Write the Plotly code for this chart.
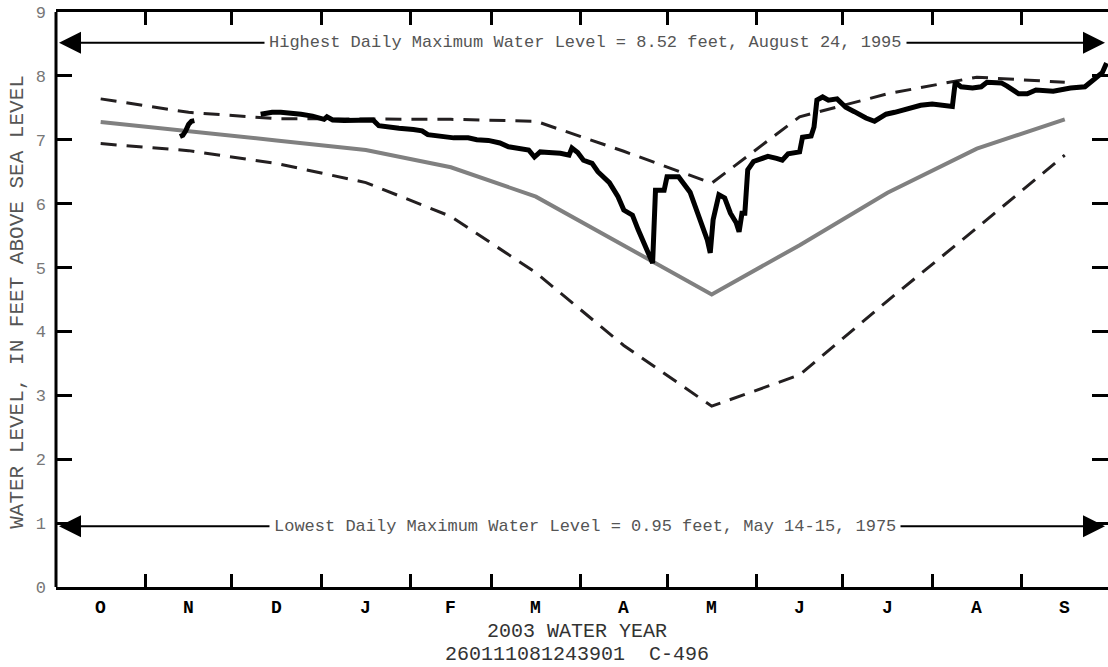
import pandas as pd
import plotly.graph_objects as go

# ---- data -------------------------------------------------------------
month_letters = ["O", "N", "D", "J", "F", "M", "A", "M", "J", "J", "A", "S"]
month_starts = ["2002-10-01", "2002-11-01", "2002-12-01", "2003-01-01",
                "2003-02-01", "2003-03-01", "2003-04-01", "2003-05-01",
                "2003-06-01", "2003-07-01", "2003-08-01", "2003-09-01",
                "2003-10-01"]

# monthly statistics of daily maximum water level (plotted at mid-month)
median_level = [7.28, 7.14, 6.99, 6.84, 6.57, 6.11, 5.35, 4.58, 5.35, 6.17, 6.86, 7.32]
upper_level = [7.64, 7.43, 7.33, 7.32, 7.32, 7.29, 6.82, 6.32, 7.36, 7.72, 7.98, 7.90]
lower_level = [6.94, 6.83, 6.63, 6.33, 5.80, 4.92, 3.78, 2.83, 3.32, 4.48, 5.62, 6.76]

# daily maximum water level, 2003 water year (None = missing record)
daily_dates = [
    "2002-11-13", "2002-11-14", "2002-11-15", "2002-11-16", "2002-11-17", "2002-11-18",
    "2002-11-19",
    "2002-12-11", "2002-12-15", "2002-12-18", "2002-12-22", "2002-12-25", "2002-12-29",
    "2003-01-01", "2003-01-02", "2003-01-03", "2003-01-05", "2003-01-09", "2003-01-14",
    "2003-01-19", "2003-01-21", "2003-01-24", "2003-01-28", "2003-02-02", "2003-02-05",
    "2003-02-07", "2003-02-12", "2003-02-16", "2003-02-21", "2003-02-24", "2003-02-28",
    "2003-03-04", "2003-03-07", "2003-03-11", "2003-03-14", "2003-03-16", "2003-03-18",
    "2003-03-21", "2003-03-25", "2003-03-28", "2003-03-29", "2003-03-31", "2003-04-02",
    "2003-04-05", "2003-04-07", "2003-04-11", "2003-04-14", "2003-04-16", "2003-04-19",
    "2003-04-21", "2003-04-24", "2003-04-26", "2003-04-27", "2003-04-30", "2003-05-01",
    "2003-05-05", "2003-05-09", "2003-05-11", "2003-05-13", "2003-05-15", "2003-05-16",
    "2003-05-17", "2003-05-19", "2003-05-21", "2003-05-23", "2003-05-25", "2003-05-26",
    "2003-05-27", "2003-05-28", "2003-05-29", "2003-05-31", "2003-06-03", "2003-06-05",
    "2003-06-08", "2003-06-10", "2003-06-12", "2003-06-16", "2003-06-17", "2003-06-20",
    "2003-06-21", "2003-06-22", "2003-06-24", "2003-06-26", "2003-06-29", "2003-07-02",
    "2003-07-05", "2003-07-07", "2003-07-09", "2003-07-12", "2003-07-16", "2003-07-19",
    "2003-07-25", "2003-07-28", "2003-08-01", "2003-08-06", "2003-08-08", "2003-08-09",
    "2003-08-11", "2003-08-15", "2003-08-18", "2003-08-20", "2003-08-25", "2003-08-27",
    "2003-08-31", "2003-09-03", "2003-09-06", "2003-09-12", "2003-09-18", "2003-09-23",
    "2003-09-27", "2003-09-29", "2003-09-30 12:00",
]
daily_level = [
    7.05, 7.07, 7.14, 7.24, 7.29, 7.30,
    None,
    7.40, 7.43, 7.43, 7.42, 7.40, 7.37,
    7.33, 7.32, 7.36, 7.31, 7.30, 7.31,
    7.31, 7.22, 7.20, 7.18, 7.16, 7.14,
    7.08, 7.05, 7.03, 7.03, 7.00, 6.99,
    6.95, 6.89, 6.87, 6.84, 6.73, 6.81,
    6.80, 6.79, 6.76, 6.87, 6.80, 6.68,
    6.63, 6.50, 6.33, 6.11, 5.90, 5.82,
    5.59, 5.28, 5.07, 6.21, 6.21, 6.42,
    6.42, 6.18, 5.92, 5.70, 5.43, 5.23,
    5.75, 6.14, 6.09, 5.85, 5.70, 5.56,
    5.85, 5.85, 6.53, 6.66, 6.71, 6.74,
    6.71, 6.68, 6.78, 6.81, 7.04, 7.06,
    7.20, 7.62, 7.67, 7.62, 7.64, 7.51,
    7.44, 7.39, 7.34, 7.29, 7.40, 7.43,
    7.51, 7.54, 7.56, 7.54, 7.52, 7.90,
    7.83, 7.81, 7.83, 7.90, 7.89, 7.84,
    7.72, 7.72, 7.78, 7.76, 7.81, 7.83,
    7.97, 8.05, 8.20,
]

record_high = 8.52
record_high_text = "Highest Daily Maximum Water Level = 8.52 feet, August 24, 1995"
record_low = 0.95
record_low_text = "Lowest Daily Maximum Water Level = 0.95 feet, May 14-15, 1975"

# ---- derived positions --------------------------------------------------
starts = pd.to_datetime(month_starts)
mid_month = [starts[i] + (starts[i + 1] - starts[i]) / 2 for i in range(12)]

FONT = "Courier New, Liberation Mono, monospace"
DASH_COLOR = "#231f20"

fig = go.Figure()

fig.add_trace(go.Scatter(x=mid_month, y=upper_level, mode="lines",
                         line=dict(color=DASH_COLOR, width=3, dash="16px,10px"),
                         hoverinfo="skip"))
fig.add_trace(go.Scatter(x=mid_month, y=lower_level, mode="lines",
                         line=dict(color=DASH_COLOR, width=3, dash="16px,10px"),
                         hoverinfo="skip"))
fig.add_trace(go.Scatter(x=mid_month, y=median_level, mode="lines",
                         line=dict(color="#808080", width=4),
                         hoverinfo="skip"))
fig.add_trace(go.Scatter(x=daily_dates, y=daily_level, mode="lines",
                         connectgaps=False,
                         line=dict(color="black", width=5),
                         hoverinfo="skip"))

annotations = []

# record lines: arrow to each edge, text sitting on a white box in the middle
for level, label in [(record_high, record_high_text), (record_low, record_low_text)]:
    for edge in (month_starts[0], month_starts[-1]):
        annotations.append(dict(
            x=edge, y=level, xref="x", yref="y",
            ax=mid_month[6], ay=level, axref="x", ayref="y",
            text="", showarrow=True, arrowhead=2, arrowsize=2.2,
            arrowwidth=2, arrowcolor="black", standoff=3,
        ))
    annotations.append(dict(
        x=0.503, y=level, xref="paper", yref="y", text=label,
        showarrow=False, bgcolor="white", borderpad=4,
        font=dict(family=FONT, size=17, color="#555555"),
    ))

# month letters centred under each month
for pos, letter in zip(mid_month, month_letters):
    annotations.append(dict(
        x=pos, y=0, xref="x", yref="paper", yanchor="middle", yshift=-21,
        text="<b>" + letter + "</b>", showarrow=False,
        font=dict(family=FONT, size=18, color="black"),
    ))

annotations += [
    dict(x=0.4955, y=-0.078, xref="paper", yref="paper", yanchor="middle",
         text="2003 WATER YEAR",
         showarrow=False, font=dict(family=FONT, size=20, color="#333333")),
    dict(x=0.4955, y=-0.118, xref="paper", yref="paper", yanchor="middle",
         text="260111081243901  C-496",
         showarrow=False, font=dict(family=FONT, size=20, color="#333333")),
    dict(x=0, y=0.496, xref="paper", yref="paper", xanchor="center", yanchor="middle",
         xshift=-38,
         text="WATER LEVEL, IN FEET ABOVE SEA LEVEL", textangle=-90,
         showarrow=False, font=dict(family=FONT, size=21, color="#555555")),
]

fig.update_layout(
    width=1108, height=667,
    margin=dict(l=56, r=0, t=12, b=80),
    paper_bgcolor="white", plot_bgcolor="white",
    showlegend=False,
    annotations=annotations,
    shapes=[dict(type="line", xref="paper", yref="paper", x0=0, x1=0, y0=0, y1=1,
                 line=dict(color="black", width=3))],
    xaxis=dict(
        type="date", range=[month_starts[0], month_starts[-1]],
        tickvals=month_starts, showticklabels=False,
        ticks="inside", ticklen=13, tickwidth=2.5, tickcolor="black",
        showline=True, linewidth=3, linecolor="black", mirror="ticks",
        showgrid=False, zeroline=False,
    ),
    yaxis=dict(
        range=[0, 9], dtick=1, tick0=0,
        ticks="inside", ticklen=16, tickwidth=2.5, tickcolor="black",
        showline=False, mirror="ticks",
        showgrid=False, zeroline=False,
        tickfont=dict(family=FONT, size=17, color="#777777"),
        ticklabelstandoff=9,
    ),
)

fig.write_html("out.html")
